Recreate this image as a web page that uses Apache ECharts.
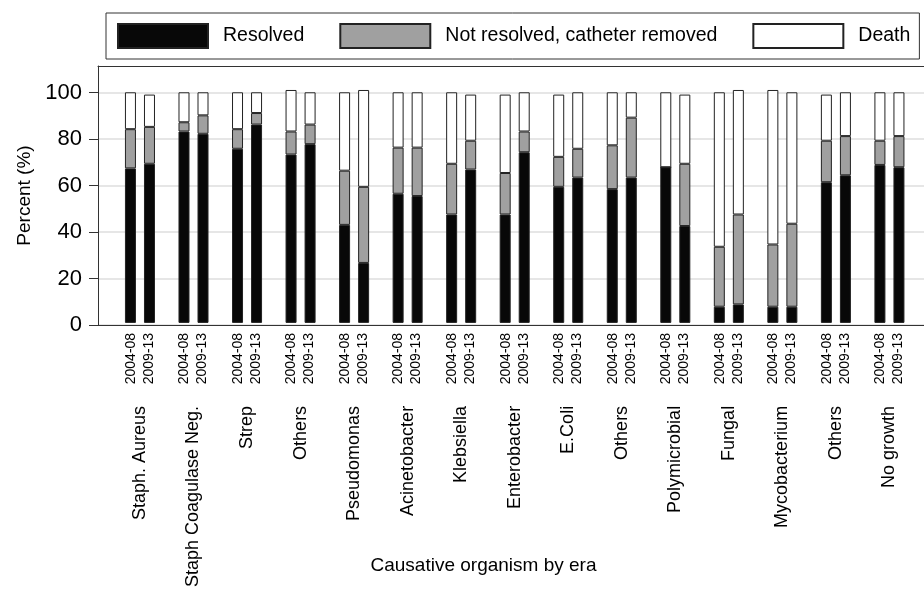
<!DOCTYPE html>
<html>
<head>
<meta charset="utf-8">
<script src="https://cdn.jsdelivr.net/npm/echarts@6/dist/echarts.min.js"></script>
<style>html,body{margin:0;padding:0;background:#fff}#c{width:924px;height:590px}</style>
</head>
<body>
<div id="c"></div>
<script>
const groups = ['Staph. Aureus','Staph Coagulase Neg.','Strep','Others','Pseudomonas','Acinetobacter','Klebsiella','Enterobacter','E.Coli','Others','Polymicrobial','Fungal','Mycobacterium','Others','No growth'];
const eras = ['2004-08','2009-13'];
const yTicks = [0,20,40,60,80,100];
const resolvedEra1 = [67,83,75.5,73,42.5,56,47,47,59,58,67.5,7,7,61,68.5];
const notResolvedEra1 = [17,4,8.5,10,23.5,20,22,18,13,19,0,26,27,18,10.5];
const deathEra1 = [16,13,16,18,34,24,31,34,27,23,32.5,67,67,20,21];
const resolvedEra2 = [69,82,86,77.5,26,55,66.5,74,63,63,42,8,7,64,67.5];
const notResolvedEra2 = [16,8,5,8.5,33,21,12.5,9,12.5,26,27,39,36,17,13.5];
const deathEra2 = [14,10,9,14,42,24,20,17,24.5,11,30,54,57,19,19];

const FONT = "'Liberation Sans', Arial, sans-serif";
const YMAX = 111.4;
const colors = {res:'#080808', nr:'#a0a0a0', death:'#ffffff'};

function bar(name, stack, data, color){
  return {type:'bar', name, stack, data, xAxisIndex:2, yAxisIndex:1,
    barWidth:11, barGap:'73%',
    itemStyle:{color, borderColor:'#222', borderWidth:1}};
}

const chart = echarts.init(document.getElementById('c'));
chart.setOption({
  animation:false,
  backgroundColor:'#fff',
  textStyle:{fontFamily:FONT, color:'#000'},
  legend:{
    left:106, top:13,
    data:['Resolved','Not resolved, catheter removed','Death'],
    icon:'rect', itemWidth:90, itemHeight:24, itemGap:35,
    padding:[10,9,10,11],
    borderColor:'#333', borderWidth:1, backgroundColor:'#fff',
    textStyle:{fontFamily:FONT, fontSize:19.5, color:'#000', padding:[0,0,0,10]}
  },
  grid:[
    {left:98, right:-1, top:66, bottom:265},
    {left:113.2, right:7.8, top:66, bottom:265}
  ],
  xAxis:[
    {gridIndex:0, type:'value', min:0, max:1, position:'bottom',
     axisLine:{show:true, lineStyle:{color:'#333'}}, axisTick:{show:false}, axisLabel:{show:false}, splitLine:{show:false},
     name:'Causative organism by era', nameLocation:'middle', nameGap:231,
     nameTextStyle:{fontFamily:FONT, fontSize:19, color:'#000', padding:[0,55,0,0]}},
    {gridIndex:0, type:'value', min:0, max:1, position:'top',
     axisLine:{show:true, lineStyle:{color:'#333'}}, axisTick:{show:false}, axisLabel:{show:false}, splitLine:{show:false}},
    {gridIndex:1, type:'category', data:groups, position:'bottom',
     axisLine:{show:false}, axisTick:{show:false},
     axisLabel:{rotate:90, margin:10, fontSize:14, lineHeight:18, color:'#000', fontFamily:FONT, interval:0,
       formatter:()=>eras.join('\n')}},
    {gridIndex:1, type:'category', data:groups, position:'bottom',
     axisLine:{show:false}, axisTick:{show:false},
     axisLabel:{rotate:90, margin:83, fontSize:18, color:'#000', fontFamily:FONT, interval:0}}
  ],
  yAxis:[
    {gridIndex:0, type:'value', min:0, max:YMAX, interval:20,
     axisLine:{show:true, lineStyle:{color:'#333'}},
     axisTick:{show:true, length:9, lineStyle:{color:'#333'}, customValues:yTicks},
     axisLabel:{fontSize:22, color:'#000', margin:16, fontFamily:FONT, customValues:yTicks,
       formatter:v=> yTicks.indexOf(v) >= 0 ? String(v) : ''},
     splitLine:{show:true, lineStyle:{color:'#e6e6e6', width:2}},
     name:'Percent (%)', nameLocation:'middle', nameGap:64, nameRotate:90,
     nameTextStyle:{fontFamily:FONT, fontSize:19, color:'#000'}},
    {gridIndex:1, type:'value', min:0, max:YMAX, show:false, splitLine:{show:false}}
  ],
  series:[
    bar('Resolved','e1',resolvedEra1,colors.res),
    bar('Not resolved, catheter removed','e1',notResolvedEra1,colors.nr),
    bar('Death','e1',deathEra1,colors.death),
    bar('Resolved','e2',resolvedEra2,colors.res),
    bar('Not resolved, catheter removed','e2',notResolvedEra2,colors.nr),
    bar('Death','e2',deathEra2,colors.death)
  ]
});
</script>
</body>
</html>
